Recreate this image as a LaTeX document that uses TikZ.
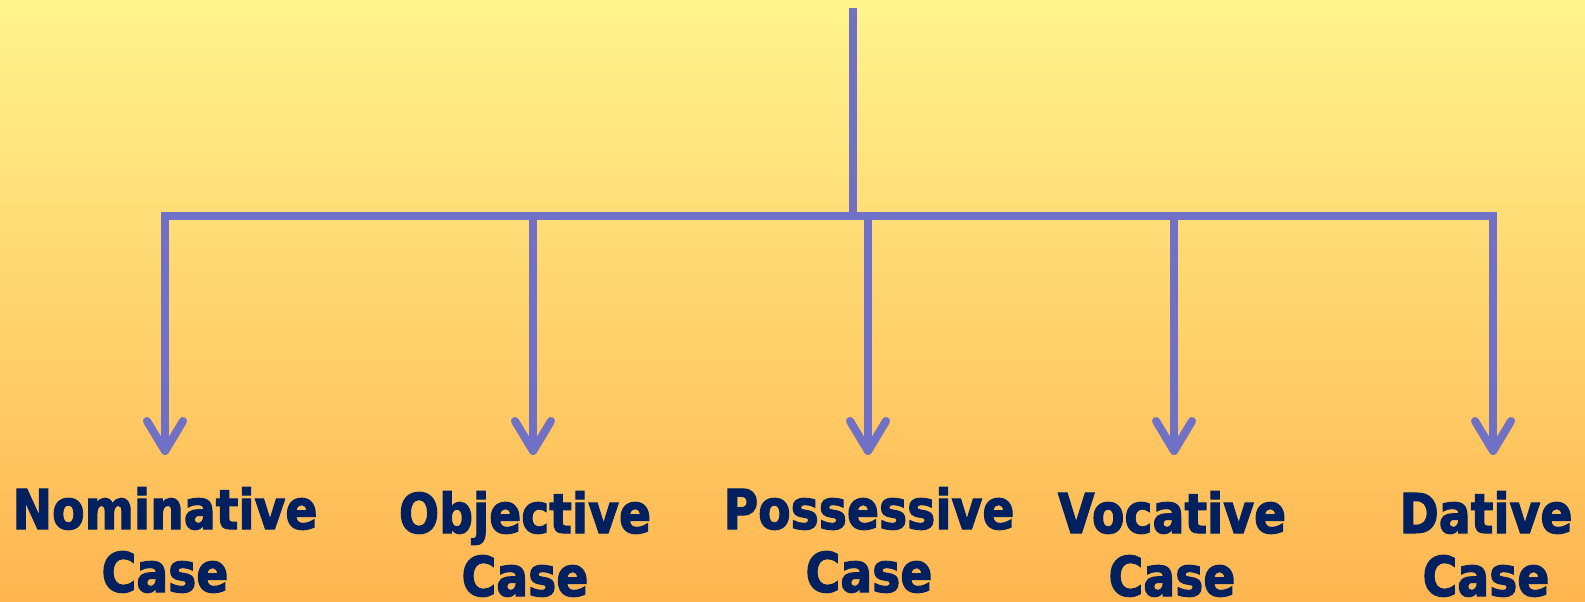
\documentclass[tikz,border=0pt]{standalone}
\usepackage{fontspec}
\setmainfont{DejaVu Sans}[FakeStretch=0.86, BoldFeatures={FakeBold=2}]
\usetikzlibrary{arrows.meta}
\definecolor{caseblue}{HTML}{00205F}
\definecolor{linkblue}{HTML}{7070C6}
\definecolor{bgtop}{HTML}{FFF48D}
\definecolor{bgbottom}{HTML}{FFB550}
\begin{document}
\begin{tikzpicture}[x=1pt, y=1pt,
  link/.style={draw=linkblue, line width=8pt,
    preaction={draw=black, opacity=0.15, transform canvas={xshift=3pt, yshift=-3pt}}},
  casename/.style={text=caseblue, font=\fontsize{55}{63}\selectfont\bfseries,
    align=center, anchor=base, inner sep=0pt},
  >={Straight Barb[length=30pt, width=36pt, round]}]
  % Hintergrund
  \fill[top color=bgtop, bottom color=bgbottom] (0,0) rectangle (1585,-602);
  \useasboundingbox (0,0) rectangle (1585,-602);
  % Knoten (base = Grundlinie der zweiten Zeile)
  \coordinate (root) at (853,-8);
  \coordinate (hub) at (853,-216);
  \foreach \n/\ax/\tx/\ty/\word in {nom/165/165/592/Nominative, obj/533/525/596/Objective,
      pos/868/869/592/Possessive, voc/1174/1172/596/Vocative, dat/1493/1486/596/Dative} {
    \coordinate (\n tip) at (\ax,-455);
    \node[casename] (\n) at (\tx,-\ty) {\word\\Case};
  }
  % Verbindungen
  \draw[link] (root) -- (hub);
  \draw[link, line cap=rect] (nomtip |- hub) -- (dattip |- hub);
  \foreach \n in {nom,obj,pos,voc,dat}
    \draw[link, ->] (\n tip |- hub) -- (\n tip);
\end{tikzpicture}
\end{document}
